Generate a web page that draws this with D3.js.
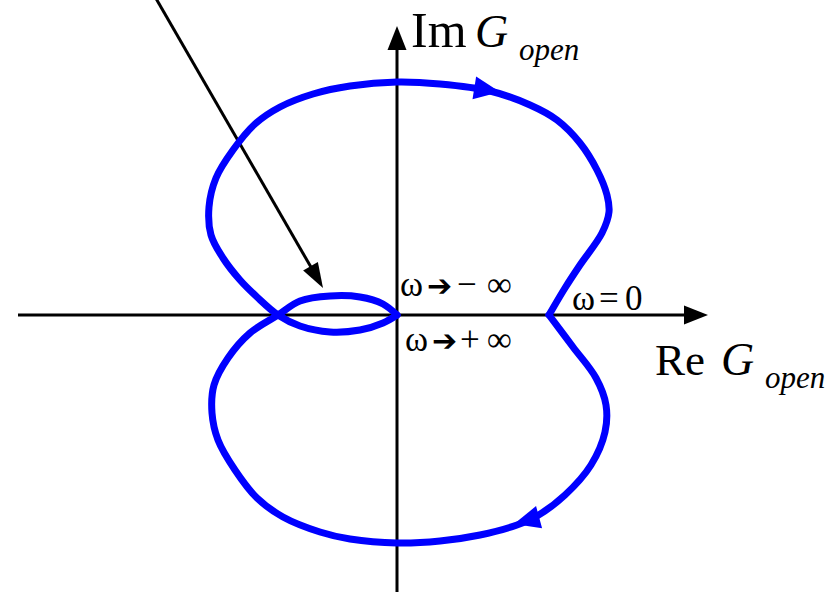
<!DOCTYPE html>
<html>
<head>
<meta charset="utf-8">
<script src="https://cdn.jsdelivr.net/npm/d3@7"></script>
<style>
  html, body { margin: 0; padding: 0; background: #fff; }
  svg { display: block; }
</style>
</head>
<body>
<script>
// Nyquist locus of the open-loop transfer function G_open(jω).
// Branch for ω from −∞ up to 0 (leaves the origin, loops left, runs over the top).
const negOmegaRe = [0, -0.14, -0.37, -0.67, -0.97, -1.19, -1.40, -1.57, -1.74, -1.86, -1.88, -1.81, -1.64, -1.42, -1.17, -0.84, -0.47, 0.00, 0.43, 0.93, 1.33, 1.60, 1.83, 2.00, 2.10, 2.12, 2.05, 1.83, 1.68, 1.52];
const negOmegaIm = [0, -0.08, -0.15, -0.17, -0.11, 0.00, 0.18, 0.35, 0.57, 0.80, 1.08, 1.37, 1.65, 1.91, 2.08, 2.21, 2.29, 2.33, 2.31, 2.24, 2.10, 1.95, 1.72, 1.45, 1.20, 1.03, 0.82, 0.50, 0.27, 0.00];
// Branch for ω from 0 up to +∞ (runs under the bottom and returns to the origin).
const posOmegaRe = [1.52, 1.76, 1.99, 2.09, 2.08, 1.94, 1.68, 1.40, 1.20, 0.83, 0.43, 0.00, -0.47, -0.77, -1.14, -1.40, -1.62, -1.79, -1.85, -1.83, -1.69, -1.47, -1.19, -0.97, -0.67, -0.37, -0.14, 0];
const posOmegaIm = [0, -0.32, -0.63, -0.90, -1.17, -1.50, -1.80, -2.01, -2.10, -2.20, -2.26, -2.28, -2.24, -2.17, -2.02, -1.83, -1.55, -1.25, -0.98, -0.70, -0.43, -0.18, 0.00, 0.14, 0.19, 0.18, 0.11, 0];

// Direction arrows on the locus: [tail Re, tail Im, tip Re, tip Im]
const directionArrows = [
  [0.78, 2.27, 1.03, 2.23],
  [1.39, -2.03, 1.17, -2.09]
];
// Pointer to the small inner loop: [tail Re, tail Im, tip Re, tip Im]
const pointerArrow = [-2.43, 3.20, -0.74, 0.27];

// Axis extents
const reAxisRange = [-3.79, 3.11];
const imAxisRange = [-2.80, 2.89];

const W = 833, H = 592;
const x = d3.scaleLinear().domain([-3.97, 4.36]).range([0, W]);
const y = d3.scaleLinear().domain([3.15, -2.77]).range([0, H]);

const svg = d3.select("body").append("svg")
  .attr("width", W).attr("height", H)
  .attr("viewBox", `0 0 ${W} ${H}`);

// filled triangular arrowhead with its tip at (tx,ty) pointing along angle a
function arrowHead(g, tx, ty, a, len, half, fill) {
  const c = Math.cos(a), s = Math.sin(a);
  const bx = tx - c * len, by = ty - s * len;
  const pts = [[tx, ty], [bx - s * half, by + c * half], [bx + s * half, by - c * half]];
  g.append("path").attr("d", "M" + pts.map(p => p.join(",")).join("L") + "Z")
    .attr("fill", fill);
}

// ---- axes ----
const axes = svg.append("g");
axes.append("line")
  .attr("x1", x(reAxisRange[0])).attr("y1", y(0))
  .attr("x2", x(reAxisRange[1]) - 10).attr("y2", y(0))
  .attr("stroke", "#000").attr("stroke-width", 3);
arrowHead(axes, x(reAxisRange[1]), y(0), 0, 24, 9.5, "#000");
axes.append("line")
  .attr("x1", x(0)).attr("y1", y(imAxisRange[0]))
  .attr("x2", x(0)).attr("y2", y(imAxisRange[1]) + 10)
  .attr("stroke", "#000").attr("stroke-width", 3);
arrowHead(axes, x(0), y(imAxisRange[1]), -Math.PI / 2, 24, 9.5, "#000");

// ---- pointer arrow ----
const pa = pointerArrow;
const pAng = Math.atan2(y(pa[3]) - y(pa[1]), x(pa[2]) - x(pa[0]));
svg.append("line")
  .attr("x1", x(pa[0])).attr("y1", y(pa[1]))
  .attr("x2", x(pa[2]) - Math.cos(pAng) * 12).attr("y2", y(pa[3]) - Math.sin(pAng) * 12)
  .attr("stroke", "#000").attr("stroke-width", 3);
arrowHead(svg, x(pa[2]), y(pa[3]), pAng, 25, 8.5, "#000");

// ---- locus ----
const line = d3.line()
  .x(d => x(d[0])).y(d => y(d[1]))
  .curve(d3.curveCatmullRom.alpha(0.5));
const locus = svg.append("g")
  .attr("fill", "none").attr("stroke", "#0000ff")
  .attr("stroke-width", 7).attr("stroke-linejoin", "round").attr("stroke-linecap", "round");
locus.append("path").attr("d", line(negOmegaRe.map((r, i) => [r, negOmegaIm[i]])));
locus.append("path").attr("d", line(posOmegaRe.map((r, i) => [r, posOmegaIm[i]])));

directionArrows.forEach(a => {
  const ang = Math.atan2(y(a[3]) - y(a[1]), x(a[2]) - x(a[0]));
  arrowHead(svg, x(a[2]), y(a[3]), ang, 26, 11.5, "#0000ff");
});

// ---- axis titles ----
const serif = "'Liberation Serif', 'Times New Roman', serif";
function axisTitle(prefix, size, px, py, gx) {
  const t = svg.append("text").attr("font-family", serif).attr("fill", "#000");
  t.append("tspan").attr("x", px).attr("y", py).attr("font-size", size).text(prefix);
  t.append("tspan").attr("x", px + gx).attr("y", py).attr("font-size", 46)
    .attr("font-style", "italic").text("G");
  t.append("tspan").attr("x", px + gx + 44).attr("y", py + 13).attr("font-size", 31)
    .attr("font-style", "italic").text("open");
}
axisTitle("Im", 50, x(0) + 14, 47, 64);
axisTitle("Re", 45, x(reAxisRange[1]) - 53, y(0) + 60, 66);

// ---- frequency labels ----
const sym = "'DejaVu Sans', sans-serif";
function omegaLabel(parts, px, py) {
  const t = svg.append("text").attr("fill", "#000");
  parts.forEach(p => {
    t.append("tspan").attr("x", px + p[1]).attr("y", py)
      .attr("font-family", p[2] ? sym : serif)
      .attr("font-size", p[2] ? 30 : 35)
      .text(p[0]);
  });
}
omegaLabel([["ω", 0], ["➔", 27, true], ["−", 57], ["∞", 87]], x(0) + 3, y(0) - 19);
omegaLabel([["ω", 0], ["➔", 27, true], ["+", 55], ["∞", 82]], x(0) + 8, y(0) + 36);
omegaLabel([["ω", 0], ["=", 27], ["0", 53]], x(1.52) + 23, y(0) - 5);
</script>
</body>
</html>
